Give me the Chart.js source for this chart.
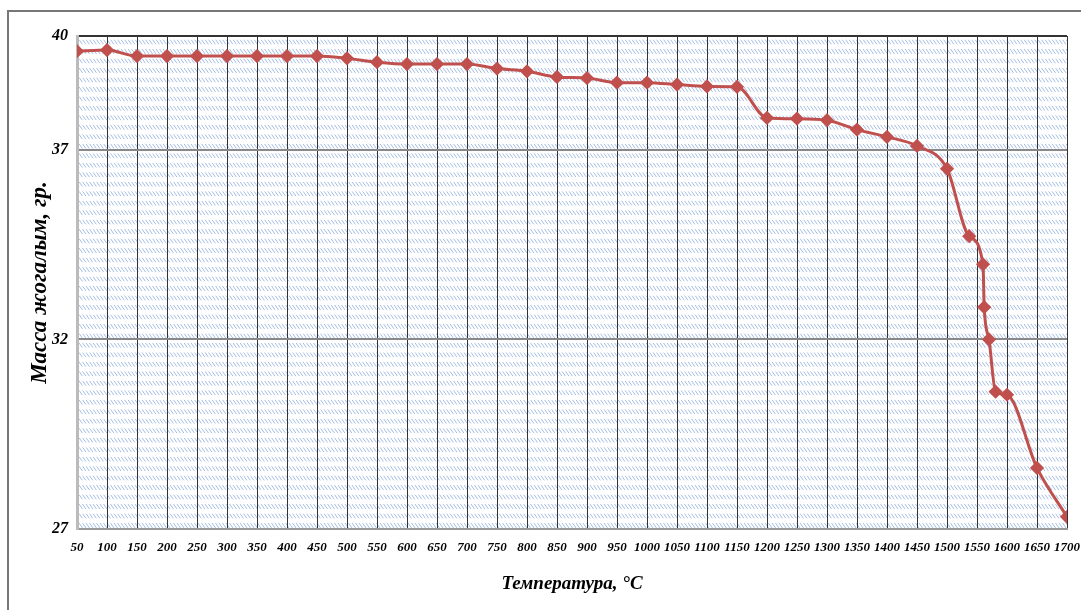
<!DOCTYPE html>
<html>
<head>
<meta charset="utf-8">
<script src="https://cdn.jsdelivr.net/npm/chart.js@4"></script>
<style>
  html, body { margin: 0; padding: 0; background: #fff; overflow: hidden; }
  #wrap { position: relative; width: 1081px; height: 610px; overflow: hidden; }
  #frame { position: absolute; left: 7px; top: 10px; width: 1200px; height: 700px;
           border-left: 2px solid #777; border-top: 2px solid #777; }
  canvas { position: absolute; left: 0; top: 0; }
</style>
</head>
<body>
<div id="wrap">
  <div id="frame"></div>
  <canvas id="massChart" width="1081" height="610"></canvas>
</div>
<script>
// Temperatures (°C) and mass readings (gr.)
const temps = [50, 100, 150, 200, 250, 300, 350, 400, 450, 500, 550, 600, 650, 700, 750, 800,
  850, 900, 950, 1000, 1050, 1100, 1150, 1200, 1250, 1300, 1350, 1400, 1450, 1500,
  1537, 1560, 1562, 1570, 1581, 1600, 1650, 1700];
const masses = [39.60, 39.63, 39.47, 39.47, 39.47, 39.47, 39.47, 39.47, 39.47, 39.41, 39.31, 39.26, 39.26, 39.26, 39.14, 39.07,
  38.92, 38.89, 38.77, 38.77, 38.72, 38.67, 38.66, 37.84, 37.82, 37.78, 37.53, 37.34, 37.10, 36.50,
  34.72, 33.98, 32.85, 32.00, 30.62, 30.54, 28.61, 27.32];

const xTicks = [];
for (let t = 50; t <= 1700; t += 50) xTicks.push(t);
const yTicks = [27, 32, 37, 40];

const lineColor = '#c0504d';
const tickFont = { family: 'Liberation Serif', size: 13, style: 'italic', weight: 'bold' };

// hatched background of the plot area, bands every quarter unit
const hatchPlugin = {
  id: 'hatch',
  beforeDraw(chart) {
    const { ctx, chartArea: a, scales: { y } } = chart;
    ctx.save();
    ctx.strokeStyle = 'rgba(90,135,205,0.55)';
    ctx.lineWidth = 1;
    for (let v = 27; v < 40; v += 0.25) {
      const top = y.getPixelForValue(v + 0.25) + 3.5;
      const bot = y.getPixelForValue(v) - 1;
      ctx.save();
      ctx.beginPath();
      ctx.rect(a.left, top, a.right - a.left, bot - top);
      ctx.clip();
      ctx.beginPath();
      const h = bot - top;
      for (let x = a.left - h; x < a.right; x += 3.5) {
        ctx.moveTo(x, top);
        ctx.lineTo(x + h * 0.7, bot);
      }
      ctx.stroke();
      ctx.restore();
    }
    ctx.restore();
  }
};

new Chart(document.getElementById('massChart'), {
  type: 'line',
  data: {
    datasets: [{
      data: temps.map((t, i) => ({ x: t, y: masses[i] })),
      borderColor: lineColor,
      backgroundColor: lineColor,
      borderWidth: 3,
      pointStyle: 'rectRot',
      pointRadius: 5,
      pointHoverRadius: 5,
      cubicInterpolationMode: 'monotone'
    }]
  },
  options: {
    responsive: false,
    animation: false,
    layout: { padding: { top: 36, right: 14, left: 0, bottom: 0 } },
    plugins: { legend: { display: false }, tooltip: { enabled: false } },
    scales: {
      x: {
        type: 'linear',
        min: 50,
        max: 1700,
        afterBuildTicks: (s) => { s.ticks = xTicks.map(v => ({ value: v })); },
        afterFit: (s) => { s.height = 81; s.paddingLeft = 0; s.paddingRight = 0; },
        ticks: { autoSkip: false, maxRotation: 0, color: '#000', font: tickFont, padding: 11,
                 callback: (v) => String(v) },
        grid: { color: '#333', lineWidth: 1, drawTicks: false },
        border: { color: '#999', width: 2 },
        title: {
          display: true,
          text: 'Температура, °C',
          color: '#000',
          font: { family: 'Liberation Serif', size: 19, style: 'italic', weight: 'bold' },
          padding: { top: 0, bottom: 15 }
        }
      },
      y: {
        min: 27,
        max: 40,
        afterBuildTicks: (s) => { s.ticks = yTicks.map(v => ({ value: v })); },
        afterFit: (s) => { s.width = 77; },
        ticks: { color: '#000', font: { family: 'Liberation Serif', size: 16, style: 'italic', weight: 'bold' }, padding: 9 },
        grid: { color: (c) => c.tick && c.tick.value === 40 ? '#333' : '#888', lineWidth: 2, drawTicks: false },
        border: { color: '#bbb', width: 3 },
        title: {
          display: true,
          text: 'Масса жогалым, гр.',
          color: '#000',
          font: { family: 'Liberation Serif', size: 23, style: 'italic', weight: 'bold' },
          padding: { top: 26, bottom: 0 }
        }
      }
    }
  },
  plugins: [hatchPlugin]
});
</script>
</body>
</html>
